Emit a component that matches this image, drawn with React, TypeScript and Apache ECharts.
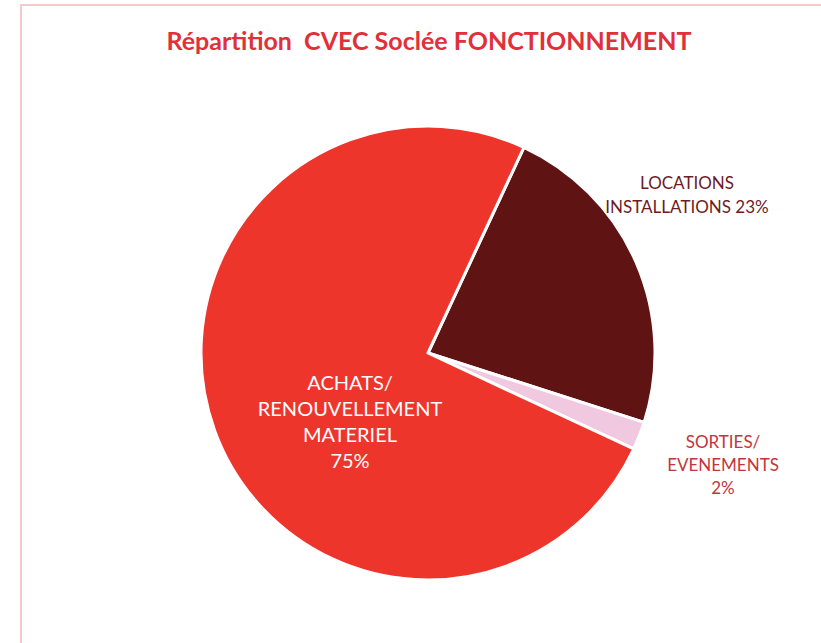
import React, { useEffect, useRef } from "react";
import * as echarts from "echarts";

const titleText = "Répartition  CVEC Soclée FONCTIONNEMENT";
const categories = ["LOCATIONS INSTALLATIONS", "SORTIES/ EVENEMENTS", "ACHATS/ RENOUVELLEMENT MATERIEL"];
const values = [23, 2, 75];
const colors = ["#5f1313", "#f0c9e1", "#ee352c"];
const labelLines = [
  ["LOCATIONS", "INSTALLATIONS 23%"],
  ["SORTIES/", "EVENEMENTS", "2%"],
  ["ACHATS/", "RENOUVELLEMENT", "MATERIEL", "75%"],
];

export default function App() {
  const ref = useRef<HTMLDivElement>(null);
  useEffect(() => {
    if (!ref.current) return;
    const chart = echarts.init(ref.current, null, { renderer: "svg" });
    const font = "Lato, 'Open Sans', sans-serif";
    chart.setOption({
      animation: false,
      backgroundColor: "#ffffff",
      title: {
        text: titleText,
        left: 424,
        top: 22,
        textAlign: "center",
        textStyle: { color: "#e0313a", fontSize: 25, fontWeight: "bold", fontFamily: font },
      },
      graphic: [
        {
          type: "polyline",
          shape: { points: [[21, 700], [21, 5], [830, 5]] },
          style: { stroke: "#f5c9c9", lineWidth: 2, fill: null },
          silent: true,
        },
        {
          type: "text",
          x: 687,
          y: 170,
          style: {
            text: labelLines[0].join("\n"),
            fill: "#6d1c1f",
            font: `17px ${font}`,
            align: "center",
            lineHeight: 24,
          },
          z: 10,
        },
        {
          type: "text",
          x: 723,
          y: 430,
          style: {
            text: labelLines[1].join("\n"),
            fill: "#c2353c",
            font: `17px ${font}`,
            align: "center",
            lineHeight: 23,
          },
          z: 10,
        },
        {
          type: "text",
          x: 350,
          y: 369,
          style: {
            text: labelLines[2].join("\n"),
            fill: "#ffffff",
            font: `20px ${font}`,
            align: "center",
            lineHeight: 26,
          },
          z: 10,
        },
      ],
      series: [
        {
          type: "pie",
          center: [428, 353],
          radius: 227,
          startAngle: 65,
          clockwise: true,
          label: { show: false },
          labelLine: { show: false },
          itemStyle: { borderColor: "#ffffff", borderWidth: 3 },
          data: categories.map((name, i) => ({
            name,
            value: values[i],
            itemStyle: { color: colors[i] },
          })),
        },
      ],
    });
    return () => chart.dispose();
  }, []);
  return (
    <div
      ref={ref}
      style={{ position: "absolute", left: 0, top: 0, width: 821, height: 643 }}
    />
  );
}
